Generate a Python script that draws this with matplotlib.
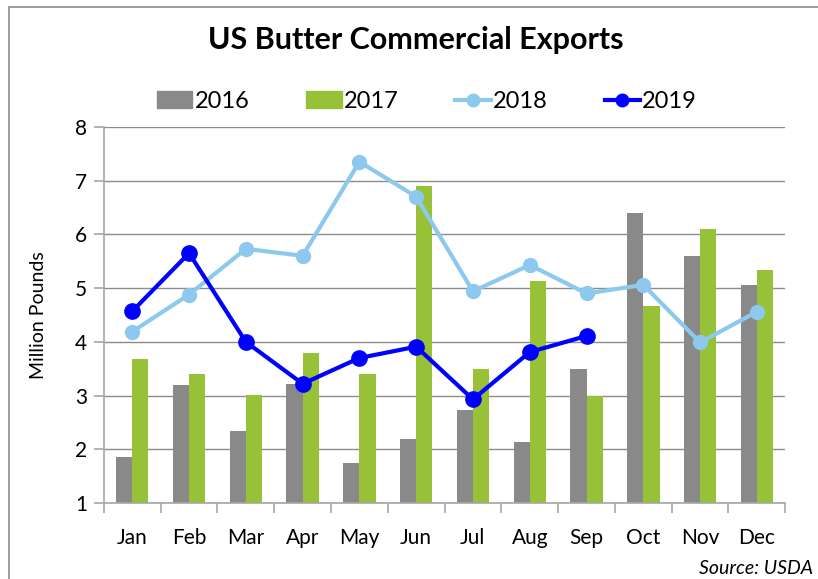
import numpy as np
import matplotlib
matplotlib.use("Agg")
import matplotlib.pyplot as plt
from matplotlib.lines import Line2D
from matplotlib.patches import Patch, Rectangle

months = ["Jan", "Feb", "Mar", "Apr", "May", "Jun",
          "Jul", "Aug", "Sep", "Oct", "Nov", "Dec"]
y2016 = [1.86, 3.19, 2.34, 3.21, 1.75, 2.20, 2.73, 2.14, 3.49, 6.40, 5.60, 5.06]
y2017 = [3.68, 3.40, 3.01, 3.79, 3.40, 6.90, 3.49, 5.14, 3.00, 4.66, 6.10, 5.34]
y2018 = [4.19, 4.88, 5.73, 5.60, 7.35, 6.70, 4.94, 5.43, 4.90, 5.06, 3.99, 4.56]
y2019 = [4.57, 5.65, 4.00, 3.22, 3.70, 3.91, 2.93, 3.81, 4.11]

plt.rcParams["font.family"] = ["Lato", "DejaVu Sans"]

c16, c17, c18, c19 = "#898989", "#97c136", "#8dc8ef", "#0000ff"

fig = plt.figure(figsize=(8.18, 5.79), dpi=100)
ax = fig.add_axes([0.127, 0.131, 0.833, 0.650])

x = np.arange(len(months))
w = 0.285
ax.bar(x - w/2, np.array(y2016) - 1, w, bottom=1, color=c16, zorder=2)
ax.bar(x + w/2, np.array(y2017) - 1, w, bottom=1, color=c17, zorder=2)
ax.plot(x, y2018, color=c18, lw=3, marker="o", ms=10, zorder=3)
ax.plot(x[:len(y2019)], y2019, color=c19, lw=3, marker="o", ms=11, zorder=4)

ax.set_xlim(-0.5, 11.5)
ax.set_ylim(1, 8)
ax.set_yticks(range(1, 9))
ax.yaxis.grid(True, color="#8c8c8c", lw=1)
ax.set_axisbelow(True)
ax.set_xticks(x)
ax.set_xticklabels(months, fontsize=15)
ax.tick_params(axis="x", length=0, pad=18)
ax.set_xticks(np.arange(-0.5, 12, 1), minor=True)
ax.tick_params(axis="x", which="minor", length=7, color="#a6a6a6", width=1.2)
ax.tick_params(axis="y", labelsize=15, length=7, color="#a6a6a6", width=1.2, pad=5)
for s in ["top", "right"]:
    ax.spines[s].set_visible(False)
for s in ["left", "bottom"]:
    ax.spines[s].set_color("#a6a6a6")
    ax.spines[s].set_linewidth(1.2)
ax.set_ylabel("Million Pounds", fontsize=14, labelpad=20)

handles = [Patch(color=c16), Patch(color=c17),
           Line2D([], [], color=c18, lw=3, marker="o", ms=9),
           Line2D([], [], color=c19, lw=3, marker="o", ms=9)]
fig.legend(handles, ["2016", "2017", "2018", "2019"], ncol=4, frameon=False,
           fontsize=17, loc="center", bbox_to_anchor=(0.522, 0.825),
           columnspacing=2.4, handlelength=1.5, handletextpad=0.1)

fig.suptitle("US Butter Commercial Exports", fontsize=22, fontweight="bold",
             x=0.508, y=0.955)
fig.text(0.994, 0.008, "Source: USDA", fontsize=14, style="italic", ha="right")
fig.patches.append(Rectangle((0.011, -0.1), 1.2, 1.088, transform=fig.transFigure,
                             fill=False, edgecolor="#8c8c8c", lw=1.2))

fig.savefig("out.png", dpi=100)
